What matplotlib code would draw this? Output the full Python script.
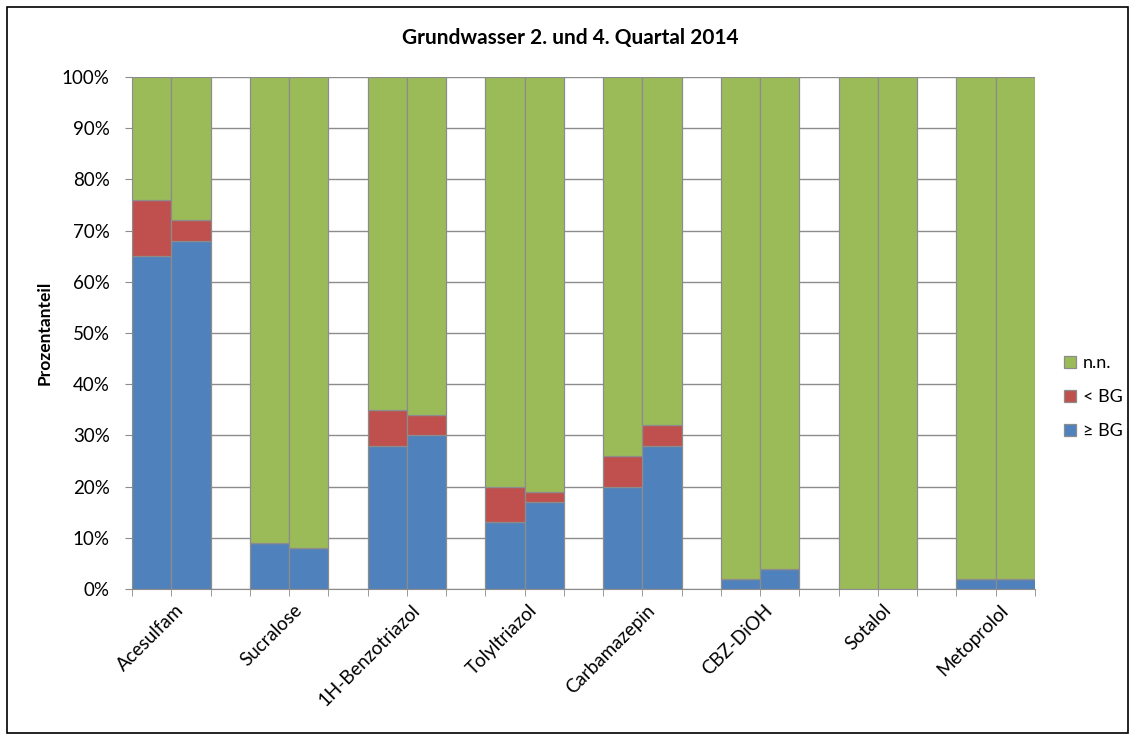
import matplotlib.pyplot as plt
import numpy as np

plt.rcParams['font.family'] = ['Lato', 'DejaVu Sans']

substances = ['Acesulfam', 'Sucralose', '1H-Benzotriazol', 'Tolyltriazol',
              'Carbamazepin', 'CBZ-DiOH', 'Sotalol', 'Metoprolol']
# two bars per substance: 2. Quartal, 4. Quartal (percent)
ge_bg_q2 = [65, 9, 28, 13, 20, 2, 0, 2]
ge_bg_q4 = [68, 8, 30, 17, 28, 4, 0, 2]
lt_bg_q2 = [11, 0, 7, 7, 6, 0, 0, 0]
lt_bg_q4 = [4, 0, 4, 2, 4, 0, 0, 0]

c_blue = '#4F81BD'
c_red = '#C0504D'
c_green = '#9BBB59'
edge = '#8C8C8C'

fig = plt.figure(figsize=(11.36, 7.37), dpi=100)
ax = fig.add_axes([132/1136, 1-589/737, (1035-132)/1136, (589-77)/737])

n = len(substances)
x = []
ge, lt = [], []
for i in range(n):
    x += [3*i, 3*i + 1]
    ge += [ge_bg_q2[i], ge_bg_q4[i]]
    lt += [lt_bg_q2[i], lt_bg_q4[i]]
x = np.array(x)
ge = np.array(ge, dtype=float)
lt = np.array(lt, dtype=float)
nn = 100 - ge - lt

kw = dict(width=1, align='edge', edgecolor=edge, linewidth=0.9, zorder=3)
b1 = ax.bar(x, ge, color=c_blue, **kw)
b2 = ax.bar(x, lt, bottom=ge, color=c_red, **kw)
b3 = ax.bar(x, nn, bottom=ge + lt, color=c_green, **kw)

ax.set_xlim(0, 3*n - 1)
ax.set_ylim(0, 100)
ax.set_yticks(np.arange(0, 101, 10))
ax.set_yticklabels(['{}%'.format(v) for v in range(0, 101, 10)], fontsize=13.5)
ax.yaxis.grid(True, color='#8C8C8C', linewidth=1, zorder=0)
ax.set_axisbelow(True)

ax.set_xticks([3*i + 1.1 for i in range(n)])
ax.set_xticklabels(substances, rotation=45, ha='right', rotation_mode='anchor', fontsize=13.5)
ax.set_xticks(np.arange(0, 3*n), minor=True)
ax.tick_params(axis='x', which='major', length=0, pad=9)
ax.tick_params(axis='x', which='minor', length=5, color=edge)
ax.tick_params(axis='y', length=5, color=edge, pad=11)

for s in ['top', 'right']:
    ax.spines[s].set_visible(False)
for s in ['left', 'bottom']:
    ax.spines[s].set_color(edge)

ax.set_ylabel('Prozentanteil', fontsize=12.5, fontweight='bold', labelpad=7)
fig.text(0.502, 1-38/737, 'Grundwasser 2. und 4. Quartal 2014', ha='center', va='center',
         fontsize=15, fontweight='bold')

fig.legend([b3, b2, b1], ['n.n.', '< BG', '≥ BG'], loc='center left',
           bbox_to_anchor=(1048/1136, 1-397/737), frameon=False, fontsize=13,
           handlelength=0.65, handleheight=0.65, handletextpad=0.4, labelspacing=1.0)

# outer frame
fig.patches.append(plt.Rectangle((7/1136, 4/737), 1121/1136, 726/737, transform=fig.transFigure,
                                 fill=False, edgecolor='black', linewidth=1.2))

fig.savefig('out.png', dpi=100)
